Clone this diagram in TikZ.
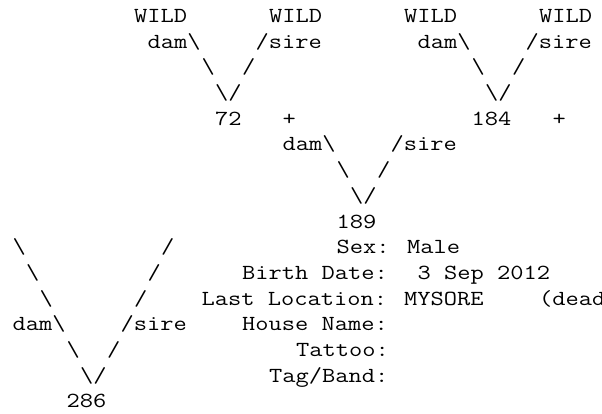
\documentclass[tikz,border=0pt]{standalone}
\usepackage{graphicx}
\newcommand{\mono}[1]{\scalebox{1.196}[1]{#1}}
\newcommand{\bs}{\textbackslash}
\tikzset{
  txt/.style={anchor=base west, inner sep=0pt, outer sep=0pt, text=black,
    font=\fontsize{21.5}{25.7}\selectfont\ttfamily},
}
\newcommand{\asc}[4]{\node[txt] (#1) at ({12.6+13.5*#2},{391.5-25.7*(#3-1)}) {\mono{#4}};}
\begin{document}
\begin{tikzpicture}[x=1pt,y=1pt]
\useasboundingbox (0,0) rectangle (602,414);
\fill[white] (0,0) rectangle (602,414);
% row 1
\asc{w1}{9}{1}{WILD}
\asc{w2}{19}{1}{WILD}
\asc{w3}{29}{1}{WILD}
\asc{w4}{39}{1}{WILD}
% row 2
\asc{d1}{10}{2}{dam\bs}
\asc{s1}{18}{2}{/sire}
\asc{d2}{30}{2}{dam\bs}
\asc{s2}{38}{2}{/sire}
% row 3
\asc{a1}{14}{3}{\bs}
\asc{b1}{17}{3}{/}
\asc{a2}{34}{3}{\bs}
\asc{b2}{37}{3}{/}
% row 4
\asc{v1}{15}{4}{\bs/}
\asc{v2}{35}{4}{\bs/}
% row 5
\asc{n72}{15}{5}{72}
\asc{p1}{20}{5}{+}
\asc{n184}{34}{5}{184}
\asc{p2}{40}{5}{+}
% row 6
\asc{d3}{20}{6}{dam\bs}
\asc{s3}{28}{6}{/sire}
% row 7
\asc{a3}{24}{7}{\bs}
\asc{b3}{27}{7}{/}
% row 8
\asc{v3}{25}{8}{\bs/}
% row 9
\asc{n189}{24}{9}{189}
% row 10
\asc{l10a}{0}{10}{\bs}
\asc{l10b}{11}{10}{/}
\asc{sex}{24}{10}{Sex: Male}
% row 11
\asc{l11a}{1}{11}{\bs}
\asc{l11b}{10}{11}{/}
\asc{birth}{17}{11}{Birth Date:}
\asc{date}{30}{11}{3 Sep 2012}
% row 12
\asc{l12a}{2}{12}{\bs}
\asc{l12b}{9}{12}{/}
\asc{loc}{14}{12}{Last Location:}
\asc{mys}{29}{12}{MYSORE}
\asc{dead}{39}{12}{(dead}
% row 13
\asc{d4}{0}{13}{dam\bs}
\asc{s4}{8}{13}{/sire}
\asc{house}{17}{13}{House Name:}
% row 14
\asc{a4}{4}{14}{\bs}
\asc{b4}{7}{14}{/}
\asc{tat}{21}{14}{Tattoo:}
% row 15
\asc{v4}{5}{15}{\bs/}
\asc{tag}{19}{15}{Tag/Band:}
% row 16
\asc{n286}{4}{16}{286}
\end{tikzpicture}
\end{document}
